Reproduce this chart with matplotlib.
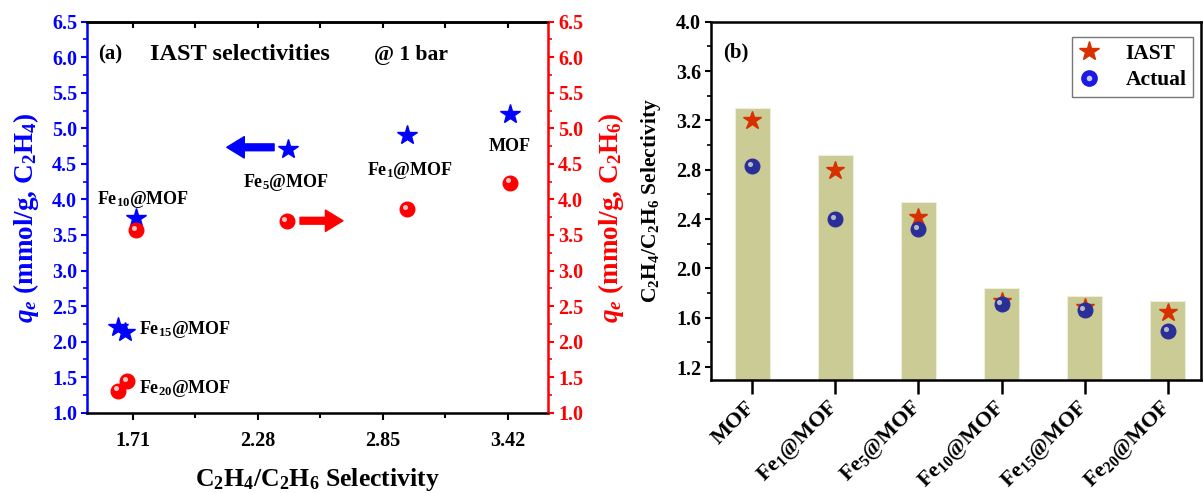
import matplotlib
matplotlib.use("Agg")
import matplotlib.pyplot as plt
from matplotlib.ticker import MultipleLocator
from matplotlib.transforms import offset_copy

plt.rcParams["font.family"] = ["Liberation Serif", "DejaVu Serif"]
plt.rcParams["font.weight"] = "bold"
plt.rcParams["mathtext.fontset"] = "custom"
plt.rcParams["mathtext.rm"] = "Liberation Serif:bold"
plt.rcParams["mathtext.bf"] = "Liberation Serif:bold"
plt.rcParams["mathtext.it"] = "Liberation Serif:italic:bold"

# ---- panel (a) data: selectivity vs uptake ----
sel_c2h4 = [3.43, 2.962, 2.416, 1.724, 1.644, 1.675]
qe_c2h4 = [5.20, 4.906, 4.71, 3.735, 2.21, 2.14]
sel_c2h6 = [3.43, 2.962, 2.411, 1.724, 1.642, 1.683]
qe_c2h6 = [4.236, 3.866, 3.70, 3.57, 1.31, 1.447]

point_labels = ["MOF", "Fe$_1$@MOF", "Fe$_5$@MOF", "Fe$_{10}$@MOF", "Fe$_{15}$@MOF", "Fe$_{20}$@MOF"]
label_x = [3.43, 2.974, 2.408, 1.756, 1.740, 1.740]
label_y = [4.74, 4.41, 4.24, 4.00, 2.17, 1.34]
label_ha = ["center", "center", "center", "center", "left", "left"]

# ---- panel (b) data ----
samples = ["MOF", "Fe$_1$@MOF", "Fe$_5$@MOF", "Fe$_{10}$@MOF", "Fe$_{15}$@MOF", "Fe$_{20}$@MOF"]
bar_sel = [3.30, 2.92, 2.54, 1.84, 1.78, 1.74]
iast_sel = [3.20, 2.80, 2.42, 1.74, 1.69, 1.645]
actual_sel = [2.83, 2.40, 2.32, 1.71, 1.66, 1.495]

BLUE = "#0000ff"
RED = "#ff0000"
BAR = "#cbcb96"
STAR = "#d83000"
BALL = "#2a2e98"

fig = plt.figure(figsize=(12.03, 4.93), dpi=100)


def balls(ax, x, y, color, size, hl="#ffd8d8"):
    ax.plot(x, y, "o", ms=size, color=color, mec=color, zorder=4)
    tr = offset_copy(ax.transData, fig=fig, x=-size * 0.15, y=size * 0.15, units="points")
    ax.plot(x, y, "o", ms=size * 0.35, color=hl, mec="none", alpha=0.9, transform=tr, zorder=5)


# ================= panel (a) =================
ax = fig.add_axes([0.0721, 0.1629, 0.3837, 0.7931])
ax.set_xlim(1.500, 3.605)
ax.set_ylim(1.0, 6.5)
ax.plot(sel_c2h4, qe_c2h4, "*", ms=15, color=BLUE, mec=BLUE, zorder=4)

ax2 = ax.twinx()
ax2.set_ylim(1.0, 6.5)
balls(ax2, sel_c2h6, qe_c2h6, RED, 10.5)

for t, x, y, ha in zip(point_labels, label_x, label_y, label_ha):
    ax.text(x, y, t, ha=ha, va="center", fontsize=13, fontweight="bold")

ax.annotate("", xy=(2.126, 4.733), xytext=(2.367, 4.733),
            arrowprops=dict(arrowstyle="simple,head_width=1.1,head_length=0.9,tail_width=0.35",
                            color=BLUE, mutation_scale=14))
ax.annotate("", xy=(2.681, 3.70), xytext=(2.460, 3.70),
            arrowprops=dict(arrowstyle="simple,head_width=1.1,head_length=0.9,tail_width=0.35",
                            color=RED, mutation_scale=14))

ax.text(0.025, 0.915, "(a)", transform=ax.transAxes, fontsize=15, fontweight="bold", va="center")
ax.text(0.137, 0.915, "IAST selectivities", transform=ax.transAxes, fontsize=17.5, fontweight="bold", va="center")
ax.text(0.623, 0.915, "@ 1 bar", transform=ax.transAxes, fontsize=15.5, fontweight="bold", va="center")

ax.set_xticks([1.71, 2.28, 2.85, 3.42])
ax.set_xticklabels(["1.71", "2.28", "2.85", "3.42"])
ax.xaxis.set_minor_locator(MultipleLocator(0.285))
ax.yaxis.set_major_locator(MultipleLocator(0.5))
ax.yaxis.set_minor_locator(MultipleLocator(0.25))
ax2.yaxis.set_major_locator(MultipleLocator(0.5))
ax2.yaxis.set_minor_locator(MultipleLocator(0.25))

ax.tick_params(axis="x", which="major", direction="out", length=5, width=1.5, labelsize=14.5, pad=8)
ax.tick_params(axis="x", which="minor", direction="out", length=3.5, width=1.5)
ax.tick_params(axis="y", which="major", direction="out", length=4.5, width=1.5, labelsize=14.5, colors=BLUE, pad=2.5)
ax.tick_params(axis="y", which="minor", direction="out", length=3, width=1.2, colors=BLUE)
ax2.tick_params(axis="y", which="major", direction="out", length=4.5, width=1.5, labelsize=14.5, colors=RED, pad=2.5)
ax2.tick_params(axis="y", which="minor", direction="out", length=3, width=1.2, colors=RED)
for lab in ax.get_yticklabels() + ax2.get_yticklabels() + ax.get_xticklabels():
    lab.set_fontweight("bold")

top = ax.secondary_xaxis("top")
top.set_xticks([1.71, 2.28, 2.85, 3.42])
top.xaxis.set_minor_locator(MultipleLocator(0.285))
top.tick_params(axis="x", which="both", direction="in", length=4, width=1.5, labeltop=False)

for s in ["top", "bottom"]:
    ax.spines[s].set_linewidth(1.8)
top.spines["top"].set_linewidth(1.8)
ax.spines["left"].set_color(BLUE)
ax.spines["left"].set_linewidth(1.8)
ax2.spines["left"].set_visible(False)
ax.spines["right"].set_visible(False)
ax2.spines["right"].set_color(RED)
ax2.spines["right"].set_linewidth(1.8)

ax.set_xlabel("C$_2$H$_4$/C$_2$H$_6$ Selectivity", fontsize=18.5, fontweight="bold", labelpad=11)
ax.set_ylabel("$q_e$ (mmol/g, C$_2$H$_4$)", fontsize=19.5, fontweight="bold", color=BLUE, labelpad=8)
ax2.set_ylabel("$q_e$ (mmol/g, C$_2$H$_6$)", fontsize=19.5, fontweight="bold", color=RED, labelpad=9)

# ================= panel (b) =================
bx = fig.add_axes([0.5908, 0.2302, 0.4075, 0.7258])
pos = list(range(len(samples)))
bx.bar(pos, bar_sel, width=0.42, color=BAR, edgecolor="#eeeedd", linewidth=0.8, zorder=2)
bx.plot(pos, iast_sel, "*", ms=13.5, color=STAR, mec=STAR, zorder=4, label="IAST")
balls(bx, pos, actual_sel, BALL, 10.5, hl="#c8c8c8")
bx.set_xlim(-0.5, 5.4)
bx.set_ylim(1.1, 4.0)
bx.yaxis.set_major_locator(MultipleLocator(0.4))
bx.yaxis.set_minor_locator(MultipleLocator(0.2))
bx.set_xticks(pos)
bx.set_xticklabels(samples, rotation=45, ha="right", va="center", rotation_mode="anchor")
bx.tick_params(axis="x", direction="out", length=10, width=1.8, labelsize=16, pad=8)
bx.tick_params(axis="y", which="major", direction="out", length=4.5, width=1.5, labelsize=14.5, pad=2.5)
bx.tick_params(axis="y", which="minor", direction="out", length=3, width=1.2)
for lab in bx.get_xticklabels() + bx.get_yticklabels():
    lab.set_fontweight("bold")
for s in bx.spines.values():
    s.set_linewidth(1.8)
bx.set_ylabel("C$_2$H$_4$/C$_2$H$_6$ Selectivity", fontsize=15.5, fontweight="bold", labelpad=9)
bx.text(0.025, 0.915, "(b)", transform=bx.transAxes, fontsize=15, fontweight="bold", va="center")

h_star = plt.Line2D([], [], ls="none", marker="*", ms=15, color=STAR, mec=STAR)
h_ball = (plt.Line2D([], [], ls="none", marker="o", ms=11, color="#1a1ae0", mec="#1a1ae0"),
          plt.Line2D([], [], ls="none", marker="o", ms=4, color="#c8c8ff", mec="none"))
leg = bx.legend([h_star, h_ball], ["IAST", "Actual"], loc="upper right", bbox_to_anchor=(0.984, 0.957),
                borderaxespad=0, fontsize=15.5, frameon=True, fancybox=False, edgecolor="#555555",
                handletextpad=1.2, handlelength=1.0, borderpad=0.3, labelspacing=0.3)
leg.get_frame().set_linewidth(1.0)
for t in leg.get_texts():
    t.set_fontweight("bold")

fig.savefig("out.png", dpi=100)
